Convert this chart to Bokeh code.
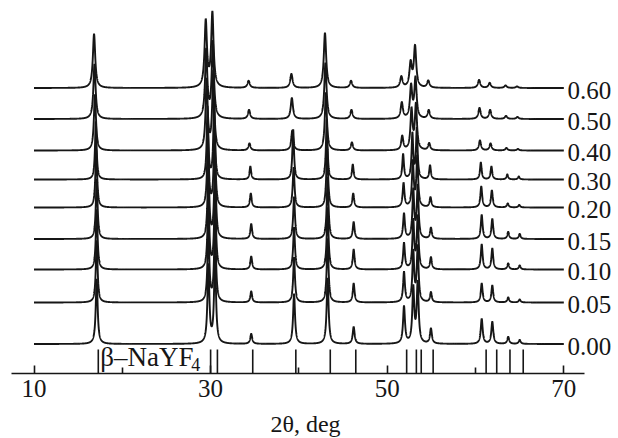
import numpy as np
from bokeh.plotting import figure
from bokeh.layouts import column
from bokeh.models import Range1d, LinearAxis, FixedTicker, ColumnDataSource
from bokeh.core.properties import value
from bokeh.embed import file_html
from bokeh.resources import INLINE

# ---- data ----
compositions = ["0.00", "0.05", "0.10", "0.15", "0.20", "0.30", "0.40", "0.50", "0.60"]
# vertical stacking offset of each pattern (arb. units)
offsets = [29.5, 71, 104, 134.5, 166, 194, 223, 254.5, 285.5]
# peak positions of the measured patterns (2theta, deg)
peak_positions = [17.1, 29.75, 30.5, 34.6, 39.45, 43.25, 46.2, 51.9, 52.95,
                  53.45, 54.95, 60.7, 61.9, 63.7, 65.0]
# small shift of the peaks with composition (deg)
shifts = [0.0, 0.0, 0.0, 0.0, -0.05, -0.1, -0.2, -0.25, -0.3]
# half width of the peaks (deg)
widths = [0.13, 0.12, 0.12, 0.12, 0.12, 0.11, 0.14, 0.15, 0.16]
# peak heights (arb. units), one list per composition
h_000 = [65, 78, 86, 10, 50, 66, 17, 37, 55, 60, 15, 25, 22, 7, 4]
h_005 = [62, 76, 84, 11, 45, 64, 19, 30, 50, 55, 10, 19, 17, 5, 3]
h_010 = [60, 74, 82, 13, 42, 62, 20, 26, 48, 52, 12, 25, 21, 6, 4]
h_015 = [60, 74, 82, 15, 42, 62, 17, 25, 48, 52, 11, 24, 20, 7, 5]
h_020 = [58, 72, 80, 14, 40, 60, 14, 24, 45, 50, 10, 21, 17, 4, 2.5]
h_030 = [58, 72, 80, 13, 50, 60, 15, 25, 45, 50, 14, 17, 13, 5, 3]
h_040 = [56, 70, 78, 7, 20, 58, 8, 14, 40, 45, 7, 10, 7, 2.5, 1.5]
h_050 = [55, 68, 76, 9, 21, 56, 9, 16, 32, 40, 8.5, 11, 9, 3, 2]
h_060 = [54, 66, 74, 7, 14, 55, 7, 11, 24, 41, 7, 8, 5, 2.5, 1.5]
heights = [h_000, h_005, h_010, h_015, h_020, h_030, h_040, h_050, h_060]

# beta-NaYF4 reference lines (deg)
ref_positions = [17.28, 30.0, 30.77, 34.77, 39.65, 43.55, 46.44, 52.2, 53.3,
                 53.85, 55.2, 61.2, 62.4, 63.9, 65.4]
major_ticks = [10, 30, 50, 70]
minor_ticks = [20, 40, 60]
x_title = "2θ, deg"

FONT = "Liberation Serif"
INK = "#161616"

p = figure(width=618, height=408, frame_width=618, frame_height=373,
           x_range=Range1d(6.206, 76.19), y_range=Range1d(0, 373),
           x_axis_type=None, y_axis_type=None,
           output_backend="svg", toolbar_location=None,
           min_border_left=0, min_border_right=0, min_border_top=0,
           min_border_bottom=35)
p.outline_line_color = None
p.background_fill_color = "white"
p.border_fill_color = "white"

# ---- patterns ----
two_theta = np.arange(10.0, 70.0001, 0.01)
for off, sh, w, hs in zip(offsets, shifts, widths, heights):
    y = np.full_like(two_theta, off)
    for pos, h in zip(peak_positions, hs):
        y += h / (1.0 + ((two_theta - (pos + sh)) / w) ** 2)
    p.line(two_theta, y, line_color=INK, line_width=1.9)

# ---- composition labels ----
lab_src = ColumnDataSource(dict(x=[70.42] * len(compositions), y=offsets, t=compositions))
p.text(x="x", y="y", text="t", source=lab_src, text_font=value(FONT),
       text_font_size="25px", text_baseline="middle", text_align="left",
       text_color=INK, y_offset=2)

# ---- reference lines ----
p.segment(x0=ref_positions, y0=[0] * len(ref_positions),
          x1=ref_positions, y1=[24] * len(ref_positions),
          line_color=INK, line_width=1.6)
p.text(x=[17.5], y=[16.5], text=["β–NaYF"], text_font=value(FONT),
       text_font_size="27px", text_baseline="middle", text_align="left",
       text_color=INK)
p.text(x=[17.5], y=[9], x_offset=91, text=["4"], text_font=value(FONT),
       text_font_size="18px", text_baseline="middle", text_align="left",
       text_color=INK)

# ---- bottom axis ----
ax = LinearAxis(ticker=FixedTicker(ticks=major_ticks, minor_ticks=minor_ticks),
                bounds=(7.5, 72.3))
ax.axis_line_color = INK
ax.axis_line_width = 1.6
ax.major_tick_line_color = INK
ax.major_tick_line_width = 1.6
ax.major_tick_in = 8
ax.major_tick_out = 0
ax.minor_tick_line_color = INK
ax.minor_tick_line_width = 1.6
ax.minor_tick_in = 6
ax.minor_tick_out = 0
ax.major_label_text_font = FONT
ax.major_label_text_font_size = "25px"
ax.major_label_text_color = INK
ax.major_label_standoff = 6
p.add_layout(ax, "below")

# ---- axis title strip (same x scale) ----
t = figure(width=618, height=30, frame_width=618, frame_height=30,
           x_range=p.x_range, y_range=Range1d(0, 30),
           x_axis_type=None, y_axis_type=None,
           output_backend="svg", toolbar_location=None,
           min_border_left=0, min_border_right=0, min_border_top=0,
           min_border_bottom=0)
t.outline_line_color = None
t.background_fill_color = "white"
t.border_fill_color = "white"
t.text(x=[40.75], y=[15], text=[x_title], text_font=value(FONT),
       text_font_size="24px", text_baseline="middle", text_align="center",
       text_color=INK)

layout = column(p, t, spacing=0)
open("out.html", "w").write(file_html(layout, INLINE))
